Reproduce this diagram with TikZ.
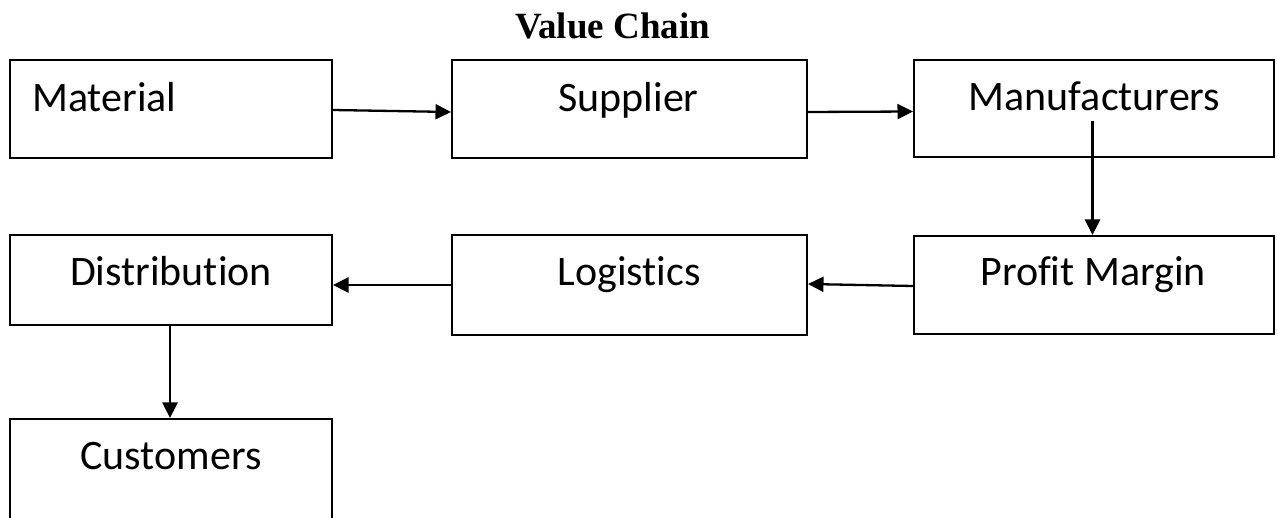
\documentclass[tikz,border=0pt]{standalone}
\usepackage{fontspec}
\setmainfont[Ligatures=NoCommon]{Carlito}
\newfontfamily\titlefont{Liberation Serif}
\usetikzlibrary{arrows.meta}

\begin{document}
\begin{tikzpicture}[x=1pt,y=-1pt,
  stagebox/.style={draw=black,line width=2pt,inner sep=0pt,fill=none},
  stagetext/.style={inner sep=0pt,font=\fontsize{42}{48}\selectfont},
  flow/.style={line width=2.3pt,-{Triangle[length=15.5pt,width=15pt]}}]

  \clip (0,0) rectangle (1277,518);
  \fill[white] (0,0) rectangle (1277,518);

  % title
  \node[inner sep=0pt,anchor=base,font=\titlefont\bfseries\fontsize{37}{42}\selectfont]
    (title) at (612.5,39) {Value Chain};

  % stage boxes
  \node[stagebox,minimum width=322pt,minimum height=98pt] (mat) at (171,109) {};
  \node[stagebox,minimum width=355pt,minimum height=98pt] (sup) at (629.5,109) {};
  \node[stagebox,minimum width=360pt,minimum height=97pt] (man) at (1094,108.5) {};
  \node[stagebox,minimum width=360pt,minimum height=98pt] (pm)  at (1094,285) {};
  \node[stagebox,minimum width=355pt,minimum height=100pt] (log) at (629.5,285) {};
  \node[stagebox,minimum width=322pt,minimum height=90pt] (dis) at (171,280) {};
  \node[stagebox,minimum width=322pt,minimum height=112pt] (cus) at (171,475) {};

  % stage labels
  \node[stagetext,anchor=base west] (tmat) at (32,111.5) {Material};
  \node[stagetext,anchor=base] (tsup) at (628.5,111.5) {Supplier};
  \node[stagetext,anchor=base] (tman) at (1094.5,110.5) {Manufacturers};
  \node[stagetext,anchor=base] (tpm)  at (1093,285.5) {Profit Margin};
  \node[stagetext,anchor=base] (tlog) at (629,285.5) {Logistics};
  \node[stagetext,anchor=base] (tdis) at (171,285.5) {Distribution};
  \node[stagetext,anchor=base] (tcus) at (171,469.5) {Customers};

  % connectors
  \coordinate (mandrop) at (1092.5,121);
  \draw[flow] ([yshift=-1pt]mat.east) -- ([yshift=-3pt]sup.west);
  \draw[flow] ([yshift=-3pt]sup.east) -- ([yshift=-3pt]man.west);
  \draw[flow] (mandrop) -- (mandrop |- pm.north);
  \draw[flow] ([yshift=-1pt]pm.west) -- ([yshift=1pt]log.east);
  \draw[flow] (log.west) -- (log.west -| dis.east);
  \draw[flow] (dis.south -| 170,0) -- (cus.north -| 170,0);
\end{tikzpicture}
\end{document}
